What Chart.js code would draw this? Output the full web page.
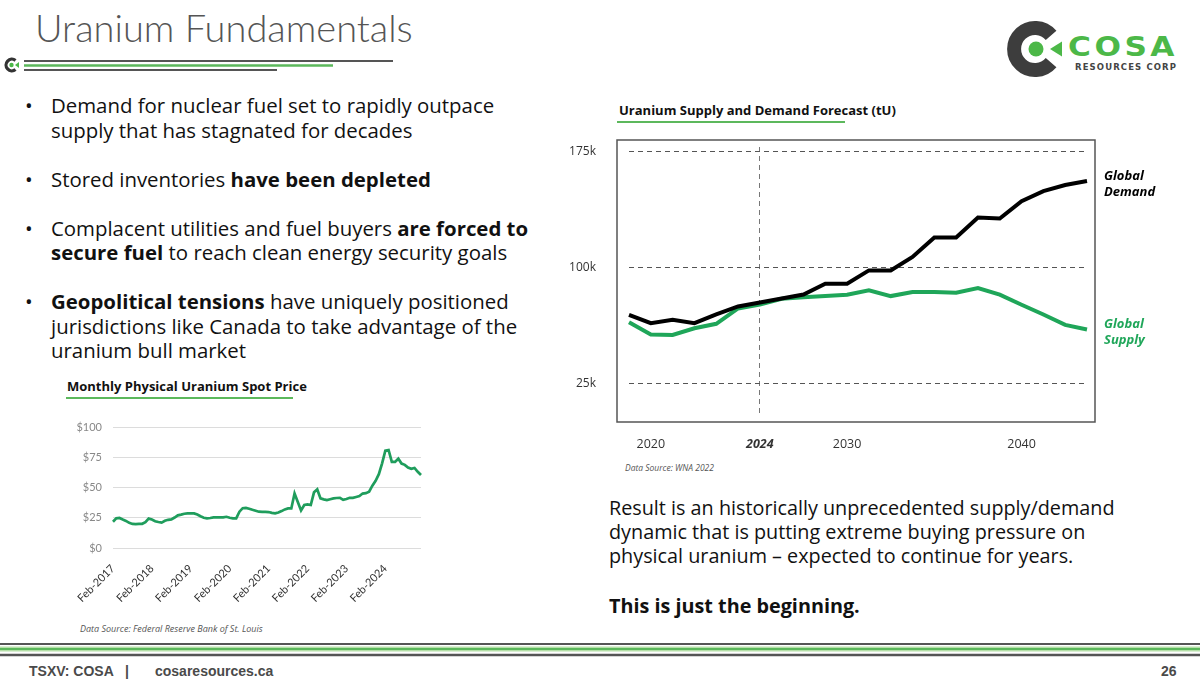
<!DOCTYPE html>
<html>
<head>
<meta charset="utf-8">
<script src="https://cdn.jsdelivr.net/npm/chart.js@4.4.1/dist/chart.umd.min.js"></script>
<style>
  body { margin: 0; width: 1200px; height: 680px; position: relative; overflow: hidden; background: #fff; font-family: 'Open Sans', 'Noto Sans', sans-serif; color: #111; }
  .abs { position: absolute; }
  #title { left: 35px; top: 4px; font-family: Lato, sans-serif; font-size: 38px; font-weight: 300; color: #555; white-space: nowrap; }
  #bullets { left: 25px; top: 93px; font-size: 20.4px; line-height: 24.5px; }
  #bullets .b { position: relative; padding-left: 26px; margin-bottom: 24.5px; white-space: nowrap; }
  #bullets .b span.dot { position: absolute; left: 0; }
  #result { left: 609px; top: 496px; font-size: 19.8px; line-height: 24px; white-space: nowrap; }
  #result p { margin: 26px 0 0 0; font-weight: 700; }
  .ctitle { font-weight: 700; font-size: 13px; white-space: nowrap; color: #111; }
  .uline { height: 2px; background: #5cb85c; }
  .src { font-style: italic; color: #555; white-space: nowrap; }
  .foot { top: 663px; font-family: 'Liberation Sans', Arial, sans-serif; font-weight: 700; font-size: 14px; color: #4a4a4a; white-space: nowrap; }
  canvas { position: absolute; }
</style>
</head>
<body>

<svg class="abs" style="left:0;top:0" width="1200" height="680">
  <!-- header rules and small mark -->
  <line x1="24" y1="61" x2="393" y2="61" stroke="#555" stroke-width="2"/>
  <line x1="24" y1="65.5" x2="333" y2="65.5" stroke="#5cb85c" stroke-width="2.5"/>
  <line x1="24" y1="70" x2="277" y2="70" stroke="#555" stroke-width="2"/>
  <path d="M 15.5 60.5 A 5.8 5.8 0 1 0 15.5 69.5" fill="none" stroke="#333" stroke-width="3.2"/>
  <circle cx="11.5" cy="65" r="2.2" fill="#4cb848"/>
  <polygon points="15,65 19,62 19,68" fill="#4cb848"/>
  <!-- COSA logo -->
  <path d="M 1051.1 35.4 A 21 21 0 1 0 1051.1 62.6" fill="none" stroke="#3d3d3d" stroke-width="14"/>
  <circle cx="1036" cy="49" r="7.5" fill="#4cb848"/>
  <polygon points="1050,49 1062,41.5 1062,56.5" fill="#4cb848"/>
  <text x="1068" y="56" font-family="'DejaVu Sans', sans-serif" font-weight="bold" font-size="27" fill="#4cb848" textLength="110" lengthAdjust="spacingAndGlyphs" letter-spacing="3">COSA</text>
  <text x="1075" y="70" font-family="'DejaVu Sans', sans-serif" font-weight="bold" font-size="8.5" fill="#444" textLength="101" lengthAdjust="spacing">RESOURCES CORP</text>
  <!-- footer rules -->
  <line x1="0" y1="644" x2="1200" y2="644" stroke="#555" stroke-width="2"/>
  <line x1="0" y1="649" x2="1200" y2="649" stroke="#b5e0a8" stroke-width="5"/>
  <line x1="0" y1="649" x2="1200" y2="649" stroke="#5cb85c" stroke-width="2"/>
  <line x1="0" y1="655" x2="1200" y2="655" stroke="#555" stroke-width="2.5"/>
</svg>

<div id="title" class="abs">Uranium Fundamentals</div>

<div id="bullets" class="abs">
  <div class="b"><span class="dot">•</span>Demand for nuclear fuel set to rapidly outpace<br>supply that has stagnated for decades</div>
  <div class="b"><span class="dot">•</span>Stored inventories <b>have been depleted</b></div>
  <div class="b"><span class="dot">•</span>Complacent utilities and fuel buyers <b>are forced to<br>secure fuel</b> to reach clean energy security goals</div>
  <div class="b"><span class="dot">•</span><b>Geopolitical tensions</b> have uniquely positioned<br>jurisdictions like Canada to take advantage of the<br>uranium bull market</div>
</div>

<div class="abs ctitle" style="left:67px;top:377px">Monthly Physical Uranium Spot Price</div>
<div class="abs uline" style="left:66px;top:397px;width:227px"></div>
<canvas id="spot" width="380" height="200" style="left:60px;top:410px"></canvas>
<div class="abs src" style="left:80px;top:622px;font-size:9px">Data Source: Federal Reserve Bank of St. Louis</div>

<div class="abs ctitle" style="left:619px;top:101px">Uranium Supply and Demand Forecast (tU)</div>
<div class="abs uline" style="left:617px;top:121px;width:228px"></div>
<canvas id="forecast" width="640" height="323" style="left:560px;top:135px"></canvas>
<div class="abs src" style="left:625px;top:462px;font-size:8.5px">Data Source: WNA 2022</div>

<div id="result" class="abs">Result is an historically unprecedented supply/demand<br>dynamic that is putting extreme buying pressure on<br>physical uranium – expected to continue for years.<p>This is just the beginning.</p></div>

<div class="abs foot" style="left:29px">TSXV: COSA</div>
<div class="abs foot" style="left:125px">|</div>
<div class="abs foot" style="left:155px">cosaresources.ca</div>
<div class="abs foot" style="left:1161px">26</div>

<script>
// monthly spot price, Feb-2017 .. Jan-2025 (USD/lb)
const spotPrice = [
  21.7, 24.5, 24.8, 23.5, 22.4, 20.8, 19.9, 19.8, 20.0, 20.0, 21.4, 24.3,
  23.5, 22.1, 21.5, 21.0, 22.5, 23.3, 23.6, 25.2, 27.0, 27.6, 28.3, 28.6,
  28.6, 28.6, 27.6, 26.2, 25.0, 24.5, 24.8, 25.3, 25.3, 25.3, 25.3, 25.8,
  25.0, 24.5, 24.5, 30.0, 32.9, 33.2, 32.5, 31.6, 30.8, 30.0, 29.9, 29.9,
  29.7, 29.0, 28.6, 29.3, 30.5, 31.9, 32.7, 32.7, 45.0, 38.0, 31.0, 35.5,
  36.0, 35.5, 46.0, 48.4, 41.0, 40.2, 39.6, 40.3, 41.0, 41.3, 41.5, 39.8,
  40.5, 41.5, 41.5, 42.2, 42.9, 45.0, 45.3, 46.5, 51.5, 55.5, 61.0, 70.0,
  80.5, 81.0, 71.2, 71.2, 73.8, 69.8, 68.7, 66.5, 65.5, 66.2, 63.0, 60.3
];
const monthNames = ['Jan', 'Feb', 'Mar', 'Apr', 'May', 'Jun', 'Jul', 'Aug', 'Sep', 'Oct', 'Nov', 'Dec'];
const spotMonths = [];
for (let i = 0; i < spotPrice.length; i++) {
  const m = (1 + i) % 12, y = 2017 + Math.floor((1 + i) / 12);
  spotMonths.push(monthNames[m] + '-' + y);
}
const spotTickLabels = ['Feb-2017', 'Feb-2018', 'Feb-2019', 'Feb-2020', 'Feb-2021', 'Feb-2022', 'Feb-2023', 'Feb-2024'];
const spotYTicks = [0, 25, 50, 75, 100];

// supply / demand forecast (thousand tU), one point per year
const forecastTicks = ['', '2020', '', '', '', '', '2024', '', '', '', '2030', '', '', '', '', '', '', '', '2040', '', '', ''];
const globalDemand = [69.5, 64.1, 66.3, 64.1, 69.7, 74.9, 77.5, 80.0, 82.6, 89.6, 89.6, 98.2, 98.2, 106.9, 119.5, 119.5, 132.4, 131.8, 143.0, 149.5, 153.4, 156.0];
const globalSupply = [64.7, 56.7, 56.5, 60.8, 63.7, 73.6, 76.2, 79.9, 80.9, 81.7, 82.5, 85.3, 81.6, 84.2, 84.2, 83.8, 86.8, 82.5, 76.0, 69.7, 63.0, 60.0];
const forecastYTicks = [25, 100, 175];

new Chart(document.getElementById('spot'), {
  type: 'line',
  data: {
    labels: spotMonths,
    datasets: [{ data: spotPrice, borderColor: '#1f9d5c', borderWidth: 2.7, pointRadius: 0, tension: 0 }]
  },
  options: {
    responsive: false,
    animation: false,
    layout: { padding: { top: 17, right: 19, left: 0, bottom: 0 } },
    plugins: { legend: { display: false }, tooltip: { enabled: false } },
    scales: {
      x: {
        grid: { display: false },
        border: { display: false },
        ticks: {
          autoSkip: false, maxRotation: 45, minRotation: 45, padding: 6,
          color: '#333', font: { family: 'Lato', size: 11 },
          callback: function (v) { const l = this.getLabelForValue(v); return spotTickLabels.includes(l) ? l : ''; }
        },
        afterFit: s => { s.height = 62; }
      },
      y: {
        min: 0, max: 100,
        afterBuildTicks: s => { s.ticks = spotYTicks.map(v => ({ value: v })); },
        grid: { color: '#dcdcdc', drawTicks: false },
        border: { display: false },
        ticks: { padding: 11, color: '#888', font: { family: 'Lato', size: 11 }, callback: v => '$' + v },
        afterFit: s => { s.width = 53; s.paddingTop = 0; s.paddingBottom = 0; }
      }
    }
  }
});

const framePlugin = {
  id: 'frame',
  beforeDraw(chart) {
    const a = chart.chartArea, c = chart.ctx;
    c.save();
    c.strokeStyle = '#555';
    c.lineWidth = 1.5;
    c.strokeRect(a.left - 12, a.top - 7, a.width + 20, a.height + 16);
    c.restore();
  }
};

const endLabels = {
  id: 'endLabels',
  afterDatasetsDraw(chart) {
    const c = chart.ctx;
    chart.data.datasets.forEach((ds, i) => {
      const pts = chart.getDatasetMeta(i).data;
      const p = pts[pts.length - 1];
      const lines = ds.label.split(' ');
      c.save();
      c.fillStyle = ds.borderColor;
      c.font = 'italic bold 13px "Open Sans"';
      c.textBaseline = 'middle';
      lines.forEach((t, k) => c.fillText(t, chart.chartArea.right + 17, p.y - 5 + 16 * k));
      c.restore();
    });
  }
};

new Chart(document.getElementById('forecast'), {
  type: 'line',
  data: {
    labels: forecastTicks,
    datasets: [
      { label: 'Global Demand', data: globalDemand, borderColor: '#000000', borderWidth: 4, pointRadius: 0, tension: 0 },
      { label: 'Global Supply', data: globalSupply, borderColor: '#1fa659', borderWidth: 4, pointRadius: 0, tension: 0 }
    ]
  },
  options: {
    responsive: false,
    animation: false,
    layout: { padding: { top: 12, right: 113, left: 0, bottom: 0 } },
    plugins: { legend: { display: false }, tooltip: { enabled: false } },
    scales: {
      x: {
        grid: { color: c => (c.tick && c.tick.label === '2024') ? '#777' : 'rgba(0,0,0,0)', drawTicks: false },
        border: { display: false, dash: [5, 4] },
        ticks: {
          autoSkip: false, maxRotation: 0, padding: 24, color: '#333',
          font: c => (c.tick && c.tick.label === '2024')
            ? { family: 'Open Sans', size: 12.5, weight: 'bold', style: 'italic' }
            : { family: 'Open Sans', size: 12.5 }
        },
        afterFit: s => { s.height = 45; }
      },
      y: {
        min: 6, max: 178,
        afterBuildTicks: s => { s.ticks = forecastYTicks.map(v => ({ value: v })); },
        grid: { color: '#555', drawTicks: false },
        border: { display: false, dash: [5, 4] },
        ticks: { padding: 33, color: '#333', font: { family: 'Open Sans', size: 12 }, callback: v => v + 'k' },
        afterFit: s => { s.width = 69; s.paddingTop = 0; s.paddingBottom = 0; }
      }
    }
  },
  plugins: [framePlugin, endLabels]
});
</script>
</body>
</html>
